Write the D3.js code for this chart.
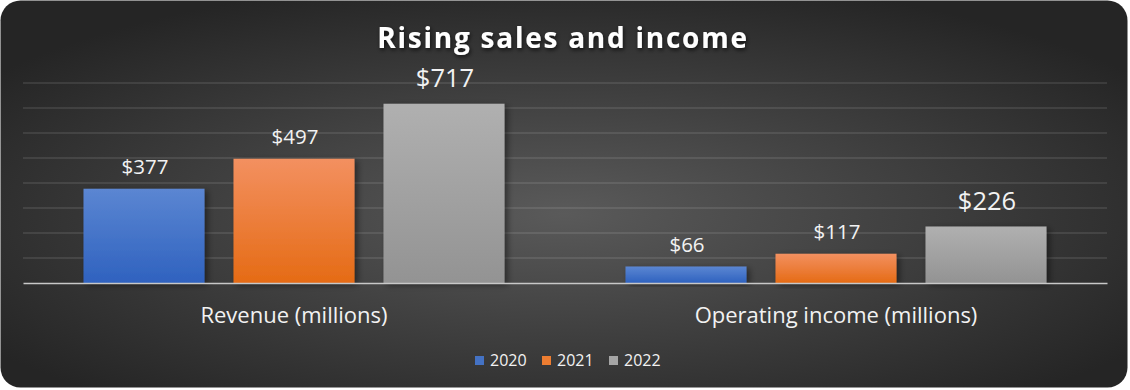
<!DOCTYPE html>
<html>
<head>
<meta charset="utf-8">
<script src="https://cdn.jsdelivr.net/npm/d3@7"></script>
<style>
  html, body { margin: 0; padding: 0; background: #ffffff; }
  svg { display: block; }
</style>
</head>
<body>
<svg id="chart" width="1130" height="390"></svg>
<script>
// ---- data ----
const title = "Rising sales and income";
const categories = ["Revenue (millions)", "Operating income (millions)"];
const years = ["2020", "2021", "2022"];
const values2020 = [377, 66];
const values2021 = [497, 117];
const values2022 = [717, 226];
const yTicks = [0, 100, 200, 300, 400, 500, 600, 700, 800];

const series = [
  { year: years[0], values: values2020 },
  { year: years[1], values: values2021 },
  { year: years[2], values: values2022 }
];

// ---- styles ----
const W = 1130, H = 390;
const plot = { left: 23, right: 1107, top: 83, bottom: 283 };
const colors = {
  "2020": ["#5b86d2", "#2f62bf"],
  "2021": ["#f39060", "#e56b15"],
  "2022": ["#b0b0b0", "#939393"]
};
const legendColors = { "2020": "#4472c4", "2021": "#ed7d31", "2022": "#a5a5a5" };
const labelSize = { "2020": 20.5, "2021": 20.5, "2022": 25.5 };
const font = "'Open Sans', 'Noto Sans', sans-serif";

const svg = d3.select("#chart");
const defs = svg.append("defs");

// background gradient
const bg = defs.append("radialGradient").attr("id", "bgGrad")
  .attr("cx", "0.5").attr("cy", "0.55").attr("r", "0.62");
bg.append("stop").attr("offset", "0").attr("stop-color", "#5a5a5a");
bg.append("stop").attr("offset", "1").attr("stop-color", "#252525");

years.forEach(yr => {
  const g = defs.append("linearGradient").attr("id", "g" + yr)
    .attr("x1", 0).attr("y1", 0).attr("x2", 0).attr("y2", 1);
  g.append("stop").attr("offset", 0).attr("stop-color", colors[yr][0]);
  g.append("stop").attr("offset", 1).attr("stop-color", colors[yr][1]);
});

const sh = defs.append("filter").attr("id", "barShadow")
  .attr("x", "-20%").attr("y", "-20%").attr("width", "140%").attr("height", "140%");
sh.append("feDropShadow").attr("dx", 3).attr("dy", 2).attr("stdDeviation", 3)
  .attr("flood-color", "#000").attr("flood-opacity", 0.45);

const tsh = defs.append("filter").attr("id", "titleShadow")
  .attr("x", "-10%").attr("y", "-40%").attr("width", "120%").attr("height", "180%");
tsh.append("feDropShadow").attr("dx", 1).attr("dy", 2).attr("stdDeviation", 2)
  .attr("flood-color", "#000").attr("flood-opacity", 0.7);

svg.append("rect")
  .attr("x", 0.5).attr("y", 0.5).attr("width", 1127).attr("height", 387)
  .attr("rx", 20).attr("ry", 20)
  .attr("fill", "url(#bgGrad)");

// ---- scales ----
const y = d3.scaleLinear().domain([0, 800]).range([plot.bottom, plot.top]);
const x0 = d3.scaleBand().domain(categories).range([plot.left, plot.right]).padding(0);
const groupPad = 60.5;
const x1 = d3.scaleBand().domain(years)
  .range([groupPad, x0.bandwidth() - groupPad])
  .paddingInner(29 / 150).paddingOuter(0);

// gridlines
svg.append("g").selectAll("line")
  .data(yTicks.filter(t => t > 0))
  .join("line")
  .attr("x1", plot.left).attr("x2", plot.right)
  .attr("y1", d => y(d)).attr("y2", d => y(d))
  .attr("stroke", "rgba(255,255,255,0.13)")
  .attr("stroke-width", 1.3);

// bars
const groups = svg.append("g").selectAll("g")
  .data(series).join("g");

groups.selectAll("rect")
  .data(s => s.values.map((v, i) => ({ year: s.year, cat: categories[i], v })))
  .join("rect")
  .attr("x", d => x0(d.cat) + x1(d.year))
  .attr("y", d => y(d.v))
  .attr("width", x1.bandwidth())
  .attr("height", d => y(0) - y(d.v))
  .attr("fill", d => "url(#g" + d.year + ")")
  .attr("filter", "url(#barShadow)");

// axis baseline
const xAxis = d3.axisBottom(x0).tickSize(0).tickFormat("");
const ax = svg.append("g").attr("transform", `translate(0,${y(0)})`).call(xAxis);
ax.select(".domain").attr("stroke", "#c8c8c8").attr("stroke-width", 1.6);

// data labels
groups.selectAll("text")
  .data(s => s.values.map((v, i) => ({ year: s.year, cat: categories[i], v })))
  .join("text")
  .attr("x", d => x0(d.cat) + x1(d.year) + x1.bandwidth() / 2 + 1)
  .attr("y", d => y(d.v) - (d.year === "2022" ? 17 : 15))
  .attr("text-anchor", "middle")
  .attr("font-family", font)
  .attr("font-size", d => labelSize[d.year])
  .attr("fill", "#f2f2f2")
  .text(d => "$" + d.v);

// category labels
svg.append("g").selectAll("text")
  .data(categories).join("text")
  .attr("x", d => x0(d) + x0.bandwidth() / 2)
  .attr("y", 323)
  .attr("text-anchor", "middle")
  .attr("font-family", font)
  .attr("font-size", 22)
  .attr("fill", "#f2f2f2")
  .text(d => d);

// title
svg.append("text")
  .attr("x", 563).attr("y", 48)
  .attr("text-anchor", "middle")
  .attr("font-family", font)
  .attr("font-weight", "bold")
  .attr("font-size", 28)
  .attr("letter-spacing", 1.75)
  .attr("fill", "#ffffff")
  .attr("filter", "url(#titleShadow)")
  .text(title);

// legend
const legendX = d3.scalePoint().domain(years).range([475, 609]);
const lg = svg.append("g").selectAll("g").data(years).join("g")
  .attr("transform", d => `translate(${legendX(d)},0)`);
lg.append("rect").attr("x", 0).attr("y", 356).attr("width", 9).attr("height", 9)
  .attr("fill", d => legendColors[d]);
lg.append("text").attr("x", 15).attr("y", 365.5)
  .attr("font-family", font).attr("font-size", 16)
  .attr("fill", "#f2f2f2").text(d => d);
</script>
</body>
</html>
